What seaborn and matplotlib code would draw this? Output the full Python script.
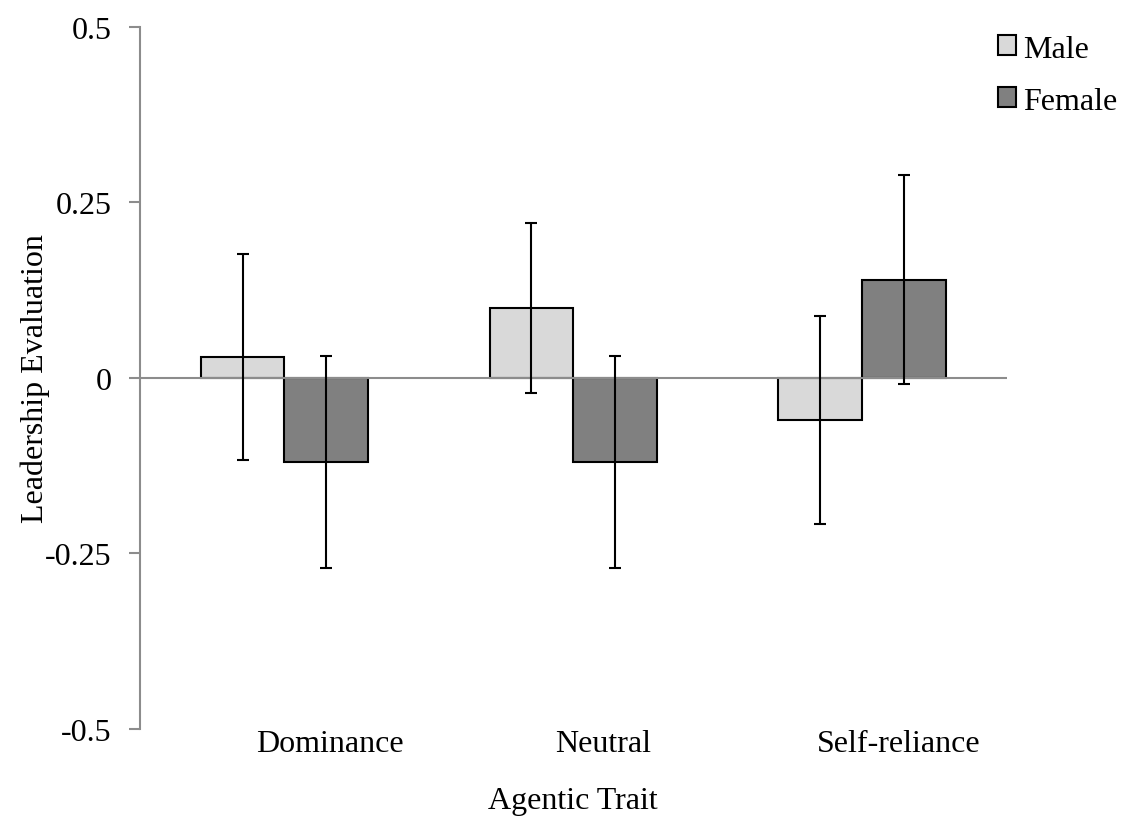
import matplotlib
matplotlib.use("Agg")
import matplotlib.pyplot as plt
import matplotlib.transforms as mtransforms
import seaborn as sns
import pandas as pd
from matplotlib.patches import Patch

traits = ["Dominance", "Neutral", "Self-reliance"]
genders = ["Male", "Female"]
male_means = [0.03, 0.10, -0.06]
female_means = [-0.12, -0.12, 0.14]
male_err = [0.147, 0.121, 0.148]
female_err = [0.151, 0.151, 0.149]
y_ticks = [-0.5, -0.25, 0, 0.25, 0.5]
y_tick_labels = ["-0.5", "-0.25", "0", "0.25", "0.5"]

colors = {"Male": "#d9d9d9", "Female": "#808080"}
label_shift_px = [45, 30, 36]  # horizontal offset of category labels, as in the reference

df = pd.DataFrame({
    "trait": traits * 2,
    "gender": ["Male"] * 3 + ["Female"] * 3,
    "value": male_means + female_means,
    "err": male_err + female_err,
})

sns.set_style("white")
plt.rcParams["font.family"] = ["Liberation Serif", "DejaVu Serif"]
plt.rcParams["text.color"] = "black"
plt.rcParams["axes.labelcolor"] = "black"
plt.rcParams["xtick.color"] = "black"
plt.rcParams["ytick.color"] = "black"

fig = plt.figure(figsize=(11.21, 8.2), dpi=100)
ax = fig.add_axes([0.1249, 0.1098, 0.898 - 0.1249, 0.9659 - 0.1098])

sns.barplot(data=df, x="trait", y="value", hue="gender", order=traits,
            hue_order=genders, palette=colors, errorbar=None, width=0.58,
            edgecolor="black", linewidth=1.5, legend=False, ax=ax, zorder=2)

for container, g in zip(ax.containers, genders):
    sub = df[df.gender == g].set_index("trait").loc[traits]
    xs = [p.get_x() + p.get_width() / 2 for p in container]
    ax.errorbar(xs, sub["value"], yerr=sub["err"], fmt="none", ecolor="black",
                elinewidth=1.5, capsize=4.5, capthick=1.5, zorder=3)

ax.axhline(0, color="#8c8c8c", linewidth=1.5, zorder=2.5)
ax.set_xlim(-0.5, 2.5)
ax.set_ylim(-0.5, 0.5)
ax.set_yticks(y_ticks)
ax.set_yticklabels(y_tick_labels)
for s in ["top", "right", "bottom"]:
    ax.spines[s].set_visible(False)
ax.spines["left"].set_color("#8c8c8c")
ax.spines["left"].set_linewidth(1.5)
ax.tick_params(axis="y", which="both", left=True, direction="out", length=8,
               width=1.5, color="#8c8c8c", labelcolor="black", labelsize=23, pad=12.5)
ax.tick_params(axis="x", bottom=False, length=0, labelsize=23, pad=0, labelcolor="black")
ax.set_xlabel("Agentic Trait", fontsize=23, labelpad=20)
ax.set_ylabel("Leadership Evaluation", fontsize=23, labelpad=-4)

for lbl, dx in zip(ax.get_xticklabels(), label_shift_px):
    lbl.set_transform(lbl.get_transform() +
                      mtransforms.ScaledTranslation(dx / 100, 0, fig.dpi_scale_trans))

handles = [Patch(facecolor=colors[g], edgecolor="black", linewidth=1.5, label=g) for g in genders]
ax.legend(handles=handles, loc="upper left", bbox_to_anchor=(0.9896, 0.989), frameon=False,
          fontsize=23, handlelength=0.58, handleheight=0.58, handletextpad=0.22,
          labelspacing=0.72, borderaxespad=0, borderpad=0)

fig.savefig("out.png", dpi=100)
